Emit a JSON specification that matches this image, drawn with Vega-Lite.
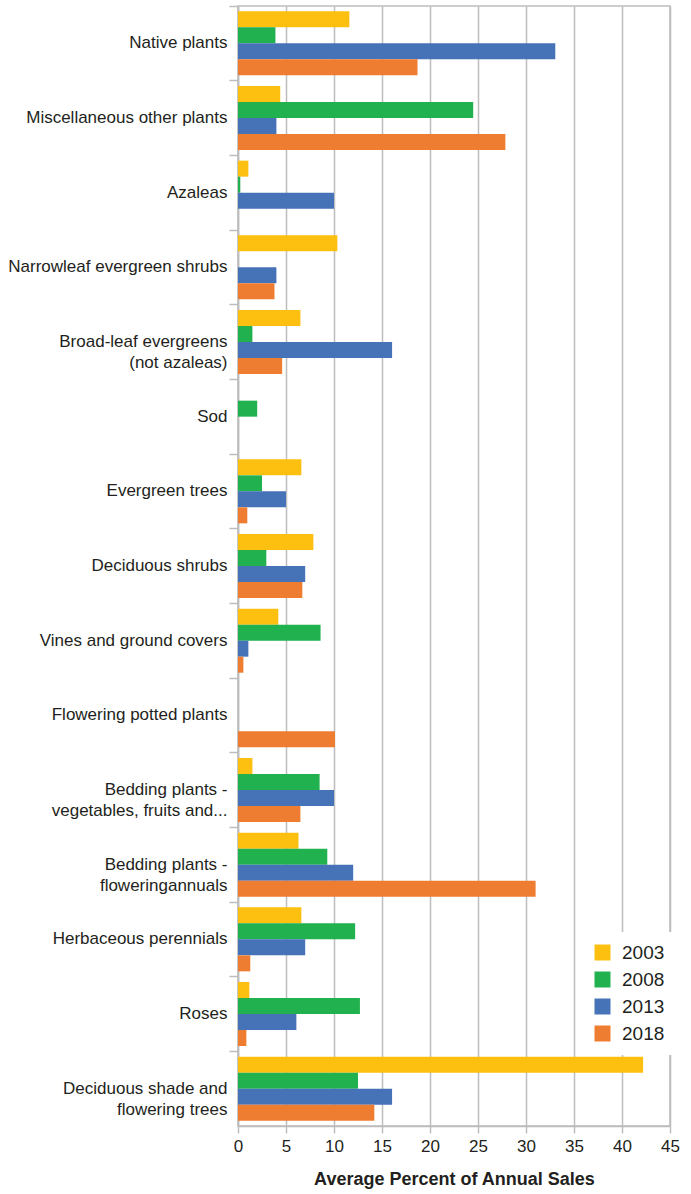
{
  "$schema": "https://vega.github.io/schema/vega-lite/v6.json",
  "width": 432,
  "height": 1120,
  "autosize": {"type": "none"},
  "padding": {"left": 238, "top": 6, "right": 21, "bottom": 68},
  "background": "white",
  "config": {
    "font": "Liberation Sans",
    "view": {"stroke": "#bdbdbd", "strokeWidth": 1.5}
  },
  "data": {
    "values": [
      {"category": "Native plants", "year": "2003", "value": 11.6},
      {"category": "Native plants", "year": "2008", "value": 3.9},
      {"category": "Native plants", "year": "2013", "value": 33.05},
      {"category": "Native plants", "year": "2018", "value": 18.7},
      {"category": "Miscellaneous other plants", "year": "2003", "value": 4.4},
      {"category": "Miscellaneous other plants", "year": "2008", "value": 24.5},
      {"category": "Miscellaneous other plants", "year": "2013", "value": 4.0},
      {"category": "Miscellaneous other plants", "year": "2018", "value": 27.85},
      {"category": "Azaleas", "year": "2003", "value": 1.08},
      {"category": "Azaleas", "year": "2008", "value": 0.24},
      {"category": "Azaleas", "year": "2013", "value": 10.0},
      {"category": "Azaleas", "year": "2018", "value": 0},
      {"category": "Narrowleaf evergreen shrubs", "year": "2003", "value": 10.35},
      {"category": "Narrowleaf evergreen shrubs", "year": "2008", "value": 0},
      {"category": "Narrowleaf evergreen shrubs", "year": "2013", "value": 4.0},
      {"category": "Narrowleaf evergreen shrubs", "year": "2018", "value": 3.8},
      {"category": "Broad-leaf evergreens|(not azaleas)", "year": "2003", "value": 6.5},
      {"category": "Broad-leaf evergreens|(not azaleas)", "year": "2008", "value": 1.5},
      {"category": "Broad-leaf evergreens|(not azaleas)", "year": "2013", "value": 16.05},
      {"category": "Broad-leaf evergreens|(not azaleas)", "year": "2018", "value": 4.6},
      {"category": "Sod", "year": "2003", "value": 0},
      {"category": "Sod", "year": "2008", "value": 2.0},
      {"category": "Sod", "year": "2013", "value": 0},
      {"category": "Sod", "year": "2018", "value": 0},
      {"category": "Evergreen trees", "year": "2003", "value": 6.6},
      {"category": "Evergreen trees", "year": "2008", "value": 2.5},
      {"category": "Evergreen trees", "year": "2013", "value": 5.0},
      {"category": "Evergreen trees", "year": "2018", "value": 0.97},
      {"category": "Deciduous shrubs", "year": "2003", "value": 7.85},
      {"category": "Deciduous shrubs", "year": "2008", "value": 2.95},
      {"category": "Deciduous shrubs", "year": "2013", "value": 7.0},
      {"category": "Deciduous shrubs", "year": "2018", "value": 6.7},
      {"category": "Vines and ground covers", "year": "2003", "value": 4.2},
      {"category": "Vines and ground covers", "year": "2008", "value": 8.6},
      {"category": "Vines and ground covers", "year": "2013", "value": 1.08},
      {"category": "Vines and ground covers", "year": "2018", "value": 0.56},
      {"category": "Flowering potted plants", "year": "2003", "value": 0},
      {"category": "Flowering potted plants", "year": "2008", "value": 0},
      {"category": "Flowering potted plants", "year": "2013", "value": 0},
      {"category": "Flowering potted plants", "year": "2018", "value": 10.1},
      {"category": "Bedding plants -|vegetables, fruits and...", "year": "2003", "value": 1.5},
      {"category": "Bedding plants -|vegetables, fruits and...", "year": "2008", "value": 8.5},
      {"category": "Bedding plants -|vegetables, fruits and...", "year": "2013", "value": 10.0},
      {"category": "Bedding plants -|vegetables, fruits and...", "year": "2018", "value": 6.5},
      {"category": "Bedding plants -|floweringannuals", "year": "2003", "value": 6.3},
      {"category": "Bedding plants -|floweringannuals", "year": "2008", "value": 9.3},
      {"category": "Bedding plants -|floweringannuals", "year": "2013", "value": 12.0},
      {"category": "Bedding plants -|floweringannuals", "year": "2018", "value": 31.0},
      {"category": "Herbaceous perennials", "year": "2003", "value": 6.6},
      {"category": "Herbaceous perennials", "year": "2008", "value": 12.2},
      {"category": "Herbaceous perennials", "year": "2013", "value": 7.0},
      {"category": "Herbaceous perennials", "year": "2018", "value": 1.28},
      {"category": "Roses", "year": "2003", "value": 1.18},
      {"category": "Roses", "year": "2008", "value": 12.7},
      {"category": "Roses", "year": "2013", "value": 6.08},
      {"category": "Roses", "year": "2018", "value": 0.87},
      {"category": "Deciduous shade and|flowering trees", "year": "2003", "value": 42.2},
      {"category": "Deciduous shade and|flowering trees", "year": "2008", "value": 12.5},
      {"category": "Deciduous shade and|flowering trees", "year": "2013", "value": 16.05},
      {"category": "Deciduous shade and|flowering trees", "year": "2018", "value": 14.2}
    ]
  },
  "mark": {"type": "bar"},
  "encoding": {
    "y": {
      "field": "category",
      "type": "nominal",
      "sort": null,
      "scale": {"paddingInner": 0, "paddingOuter": 0},
      "axis": {
        "title": null,
        "bandPosition": 0,
        "labelExpr": "split(datum.label, '|')",
        "labelFontSize": 17,
        "labelLineHeight": 21,
        "labelColor": "#231f20",
        "labelPadding": 2,
        "labelLimit": 240,
        "tickSize": 9,
        "tickColor": "#bdbdbd",
        "tickWidth": 1.5,
        "domainColor": "#bdbdbd",
        "domainWidth": 1.5,
        "grid": false
      }
    },
    "yOffset": {
      "field": "year",
      "type": "nominal",
      "sort": ["2003", "2008", "2013", "2018"],
      "scale": {"paddingInner": 0, "paddingOuter": 0.333}
    },
    "x": {
      "field": "value",
      "type": "quantitative",
      "scale": {"domain": [0, 45], "nice": false},
      "axis": {
        "title": "Average Percent of Annual Sales",
        "titleFontSize": 18,
        "titleFontWeight": "bold",
        "titleColor": "#231f20",
        "titlePadding": 16,
        "values": [0, 5, 10, 15, 20, 25, 30, 35, 40, 45],
        "labelFontSize": 17,
        "labelColor": "#231f20",
        "labelPadding": 5,
        "labelFlush": false,
        "tickSize": 7,
        "tickColor": "#bdbdbd",
        "tickWidth": 1.5,
        "domainColor": "#bdbdbd",
        "domainWidth": 1.5,
        "grid": true,
        "gridColor": "#bdbdbd",
        "gridWidth": 1.5
      }
    },
    "color": {
      "field": "year",
      "type": "nominal",
      "scale": {
        "domain": ["2003", "2008", "2013", "2018"],
        "range": ["#FDC010", "#21B14F", "#4672B8", "#EE7D31"]
      },
      "legend": {
        "title": null,
        "orient": "none",
        "legendX": 344,
        "legendY": 926,
        "fillColor": "white",
        "padding": 11,
        "symbolType": "square",
        "symbolSize": 256,
        "symbolStrokeWidth": 0,
        "labelFontSize": 19,
        "labelColor": "#231f20",
        "labelOffset": 10,
        "rowPadding": 7
      }
    }
  }
}
